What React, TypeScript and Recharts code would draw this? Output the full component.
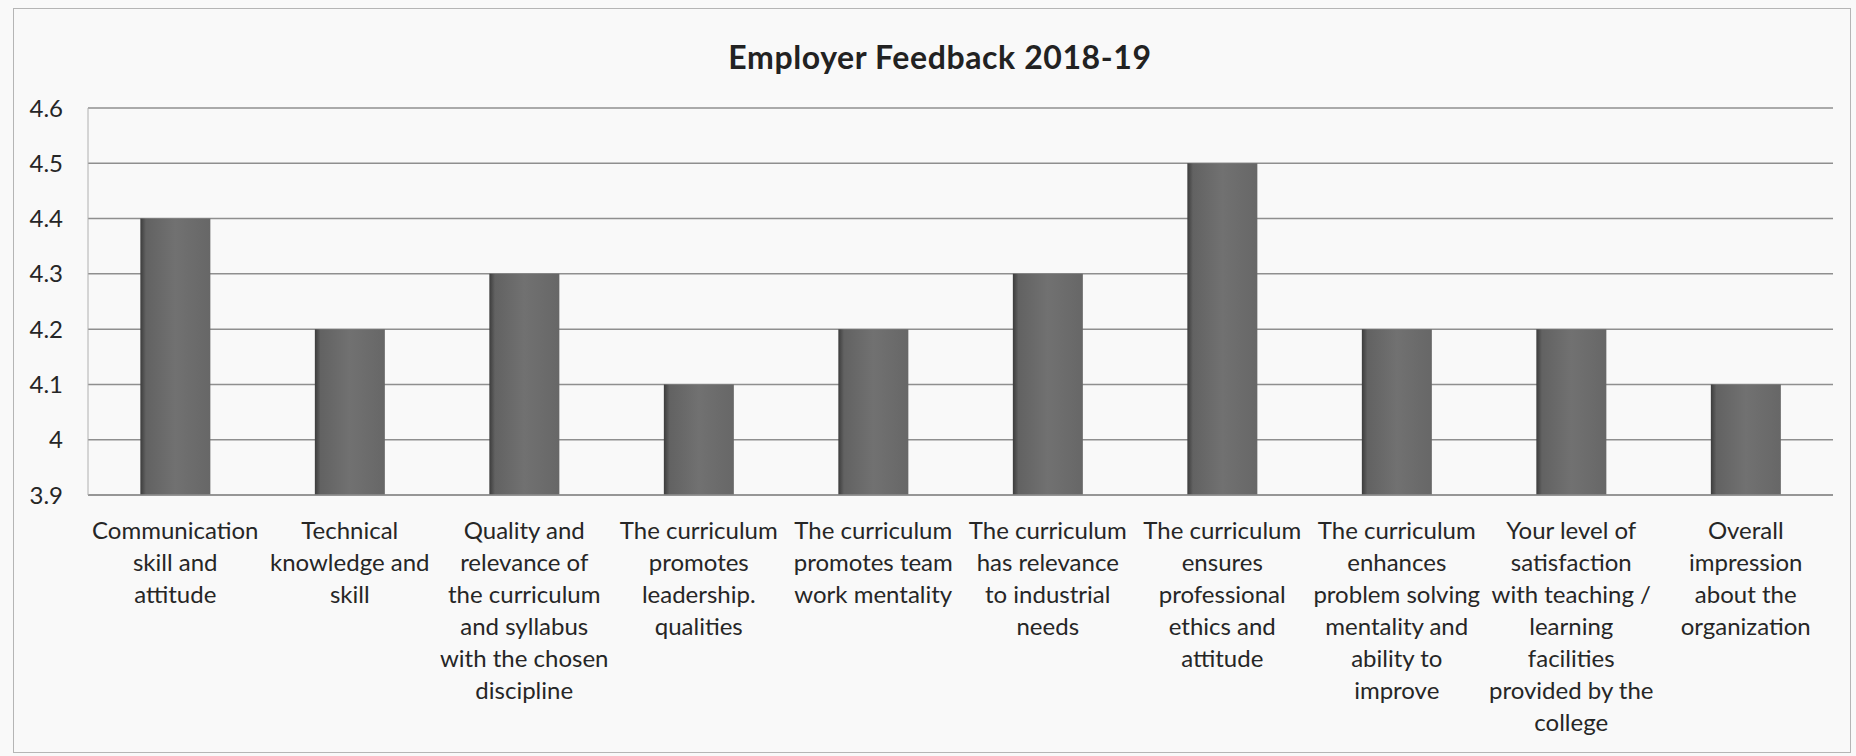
import { Bar, BarChart, CartesianGrid, XAxis, YAxis } from "recharts";

const categoryLines: string[][] = [
  ["Communication", "skill and", "attitude"],
  ["Technical", "knowledge and", "skill"],
  ["Quality and", "relevance of", "the curriculum", "and syllabus", "with the chosen", "discipline"],
  ["The curriculum", "promotes", "leadership.", "qualities"],
  ["The curriculum", "promotes team", "work mentality"],
  ["The curriculum", "has relevance", "to industrial", "needs"],
  ["The curriculum", "ensures", "professional", "ethics and", "attitude"],
  ["The curriculum", "enhances", "problem solving", "mentality and", "ability to", "improve"],
  ["Your level of", "satisfaction", "with teaching /", "learning", "facilities", "provided by the", "college"],
  ["Overall", "impression", "about the", "organization"],
];
const categories = categoryLines.map((l) => l.join(" "));
const scores = [4.4, 4.2, 4.3, 4.1, 4.2, 4.3, 4.5, 4.2, 4.2, 4.1];
const yTicks = [3.9, 4, 4.1, 4.2, 4.3, 4.4, 4.5, 4.6];

const data = categories.map((name, i) => ({ name, score: scores[i] }));

const FONT = "Lato, 'Open Sans', sans-serif";

function CategoryTick({ x, y, index }: any) {
  const lines = categoryLines[index] ?? [];
  return (
    <text x={x} y={y} textAnchor="middle" fill="#262626" fontSize={24} fontFamily={FONT}>
      {lines.map((line, i) => (
        <tspan key={i} x={x} dy={i === 0 ? 36 : 32}>
          {line}
        </tspan>
      ))}
    </text>
  );
}

export default function App() {
  return (
    <div style={{ position: "absolute", left: 0, top: 0, width: 1856, height: 756, background: "#f9f9f9" }}>
      <div
        style={{
          position: "absolute",
          left: 13,
          top: 8,
          width: 1836,
          height: 743,
          border: "1.5px solid #b5b5b5",
        }}
      />
      <div
        style={{
          position: "absolute",
          left: 0,
          width: 1880,
          top: 37,
          textAlign: "center",
          fontFamily: FONT,
          fontWeight: 700,
          fontSize: 32,
          letterSpacing: 0.6,
          color: "#222",
        }}
      >
        Employer Feedback 2018-19
      </div>
      <div style={{ position: "absolute", left: 0, top: 0 }}>
        <BarChart
          width={1856}
          height={756}
          data={data}
          margin={{ top: 108, right: 23, bottom: 0, left: 0 }}
          barCategoryGap="30%"
        >
          <defs>
            <linearGradient id="barFill" x1="0" y1="0" x2="1" y2="0">
              <stop offset="0%" stopColor="#3c3c3c" />
              <stop offset="8%" stopColor="#626262" />
              <stop offset="50%" stopColor="#717171" />
              <stop offset="100%" stopColor="#676767" />
            </linearGradient>
          </defs>
          <CartesianGrid vertical={false} stroke="#8f8f8f" strokeWidth={1.5} />
          <XAxis
            dataKey="name"
            interval={0}
            height={261}
            tickLine={false}
            axisLine={{ stroke: "#8f8f8f", strokeWidth: 1.5 }}
            tick={<CategoryTick />}
          />
          <YAxis
            domain={[3.9, 4.6]}
            ticks={yTicks}
            allowDataOverflow
            width={88}
            tickLine={false}
            tickMargin={19}
            axisLine={{ stroke: "#b0b0b0", strokeWidth: 1 }}
            tick={{ fontSize: 24, fill: "#262626", fontFamily: FONT }}
          />
          <Bar dataKey="score" fill="url(#barFill)" isAnimationActive={false} />
        </BarChart>
      </div>
    </div>
  );
}
